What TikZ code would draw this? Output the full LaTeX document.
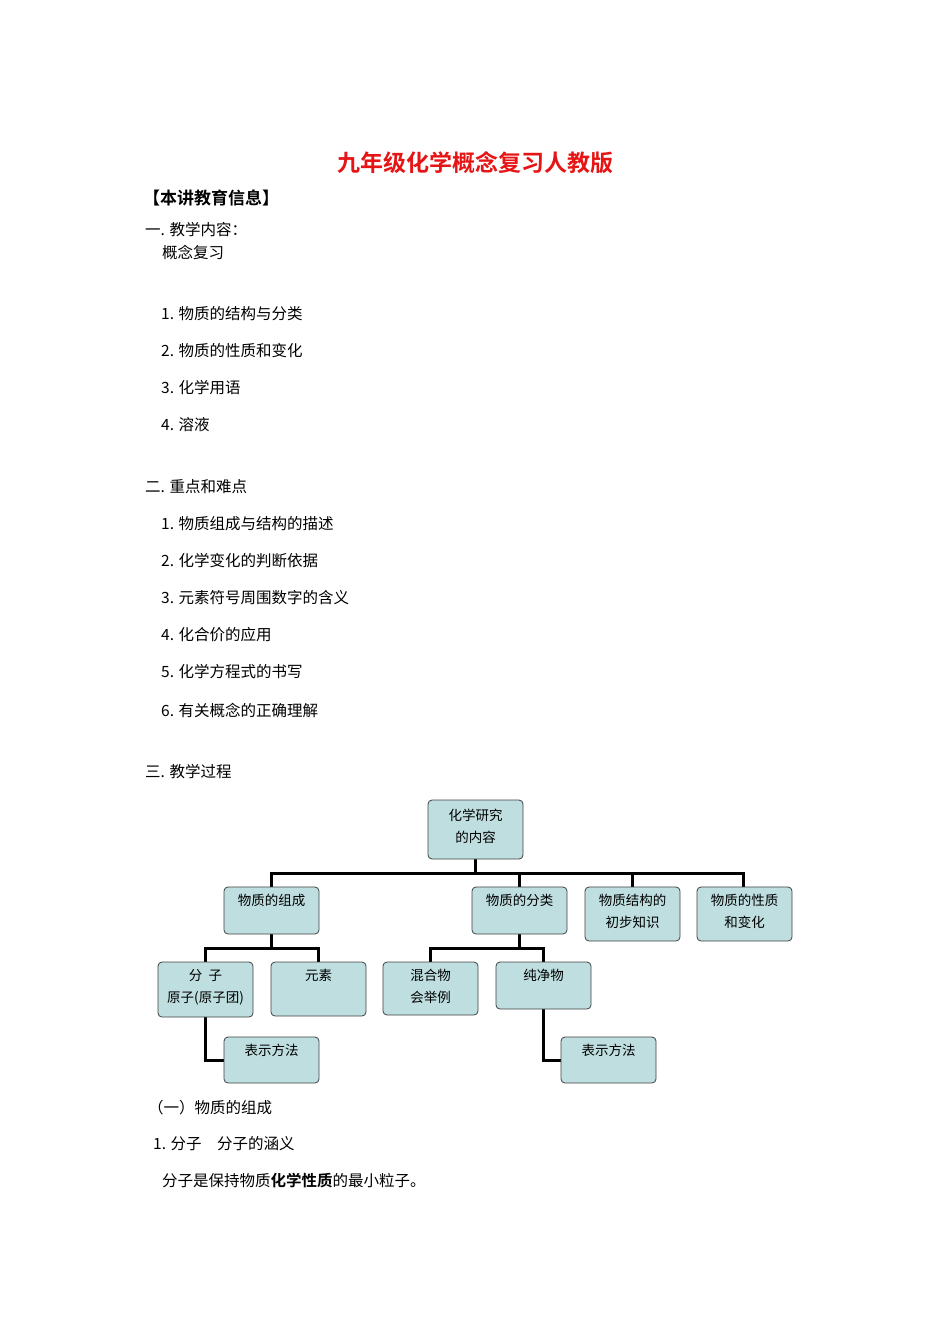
\documentclass[tikz,border=0pt]{standalone}
\usepackage{fontspec}
\setmainfont{Liberation Serif}
\newfontfamily\cjk{Noto Sans CJK SC}
\newfontfamily\cjkb{Noto Sans CJK SC Bold}
\definecolor{boxfill}{RGB}{190,222,224}
\definecolor{titlered}{RGB}{230,20,20}
\begin{document}
\begin{tikzpicture}[x=1pt,y=-1pt,
  bx/.style={draw=black!75,line width=0.8pt,fill=boxfill,rounded corners=4pt},
  bt/.style={font=\cjk\fontsize{13.5}{16}\selectfont,align=center,anchor=north},
  ln/.style={line width=3pt},
  tx/.style={anchor=west,font=\cjk\fontsize{15.5}{17}\selectfont,inner sep=0}]
\useasboundingbox (0,0) rectangle (950,1344);
\node[font=\cjkb\fontsize{23}{26}\selectfont,text=titlered] (title) at (475,163) {九年级化学概念复习人教版};
\node[tx,font=\cjkb\fontsize{17}{19}\selectfont] (h0) at (143,198) {【本讲教育信息】};
\node[tx] (s1) at (145,230) {一. 教学内容：};
\node[tx] (s1a) at (162,252) {概念复习};
\node[tx] (a1) at (161,314) {1. 物质的结构与分类};
\node[tx] (a2) at (161,351) {2. 物质的性质和变化};
\node[tx] (a3) at (161,388) {3. 化学用语};
\node[tx] (a4) at (161,425) {4. 溶液};
\node[tx] (s2) at (145,487) {二. 重点和难点};
\node[tx] (b1) at (161,524) {1. 物质组成与结构的描述};
\node[tx] (b2) at (161,561) {2. 化学变化的判断依据};
\node[tx] (b3) at (161,598) {3. 元素符号周围数字的含义};
\node[tx] (b4) at (161,635) {4. 化合价的应用};
\node[tx] (b5) at (161,672) {5. 化学方程式的书写};
\node[tx] (b6) at (161,710) {6. 有关概念的正确理解};
\node[tx] (s3) at (145,772) {三. 教学过程};
% diagram
\draw[ln] (475,859) -- (475,873);
\draw[ln] (271,887) -- (271,873) -- (743,873) -- (743,887);
\draw[ln] (519,873) -- (519,887);
\draw[ln] (632,873) -- (632,887);
\draw[ln] (271,934) -- (271,948);
\draw[ln] (205,962) -- (205,948) -- (318,948) -- (318,962);
\draw[ln] (519,934) -- (519,948);
\draw[ln] (430,962) -- (430,948) -- (543,948) -- (543,962);
\draw[ln] (205,1017) -- (205,1060) -- (224,1060);
\draw[ln] (543,1009) -- (543,1060) -- (561,1060);
\draw[bx] (428,800) rectangle (523,859);
\node[bt] (top) at (475.5,805) {化学研究\\[6pt]的内容};
\draw[bx] (224,887) rectangle (319,934);
\node[bt] (zc) at (271.5,891) {物质的组成};
\draw[bx] (472,887) rectangle (567,934);
\node[bt] (fl) at (519.5,891) {物质的分类};
\draw[bx] (585,887) rectangle (680,941);
\node[bt] (jg) at (632.5,891) {物质结构的\\[6pt]初步知识};
\draw[bx] (697,887) rectangle (792,941);
\node[bt] (xz) at (744.5,891) {物质的性质\\[6pt]和变化};
\draw[bx] (158,962) rectangle (253,1017);
\node[bt] (fz) at (205.5,966) {分\ \ 子\\[6pt]原子(原子团)};
\draw[bx] (271,962) rectangle (366,1016);
\node[bt] (ys) at (318.5,966) {元素};
\draw[bx] (383,962) rectangle (478,1015);
\node[bt] (hh) at (430.5,966) {混合物\\[6pt]会举例};
\draw[bx] (496,962) rectangle (591,1009);
\node[bt] (cj) at (543.5,966) {纯净物};
\draw[bx] (224,1037) rectangle (319,1083);
\node[bt] (bs1) at (271.5,1041) {表示方法};
\draw[bx] (561,1037) rectangle (656,1083);
\node[bt] (bs2) at (608.5,1041) {表示方法};
% after
\node[tx] (c0) at (148,1108) {（一）物质的组成};
\node[tx] (c1) at (153,1144) {1. 分子\quad 分子的涵义};
\node[tx] (c2) at (162,1181) {分子是保持物质{\cjkb 化学性质}的最小粒子。};
\end{tikzpicture}
\end{document}
